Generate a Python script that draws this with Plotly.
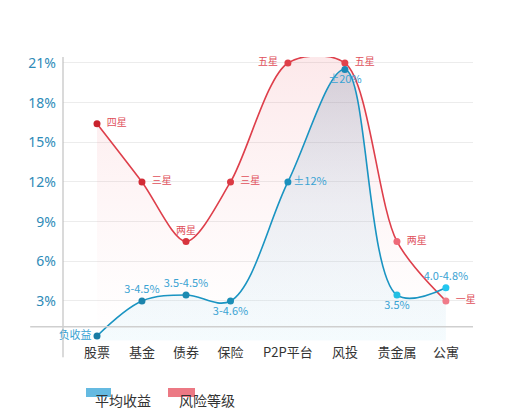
import plotly.graph_objects as go

# 分类与数据
categories = ['股票', '基金', '债券', '保险', 'P2P平台', '风投', '贵金属', '公寓']
xpos = [0, 1.01, 2.0, 3.0, 4.29, 5.57, 6.74, 7.84]

risk = [16.4, 12, 7.5, 12, 21, 21, 7.5, 3]
risk_labels = ['四星', '三星', '两星', '三星', '五星', '五星', '两星', '一星']

ret = [0.35, 3, 3.45, 3, 12, 20.5, 3.45, 4]
ret_labels = ['负收益', '3-4.5%', '3.5-4.5%', '3-4.6%', '±12%', '±20%', '3.5%', '4.0-4.8%']

yticks = [3, 6, 9, 12, 15, 18, 21]
ytick_text = ['3%', '6%', '9%', '12%', '15%', '18%', '21%']

CJK = 'Noto Sans CJK SC'
SP = '\u00a0\u00a0'

red_pts = ['#c9232d', '#d22c36', '#d8343e', '#db3a44', '#df404a', '#e0434d', '#ee6a79', '#f07b89']
blue_pts = ['#1a7ca4', '#1b84ac', '#1b8ab2', '#1b8eb6', '#1a90bd', '#1a88b6', '#22bfe3', '#22c6ef']

fig = go.Figure()

# 填充层
fig.add_trace(go.Scatter(
    x=xpos, y=risk, mode='lines', line=dict(width=0, shape='spline', smoothing=0.85),
    fill='tozeroy',
    fillgradient=dict(type='vertical', colorscale=[[0, 'rgba(245,150,160,0)'],
                                                   [1, 'rgba(236,95,108,0.14)']]),
    showlegend=False, hoverinfo='skip'))
fig.add_trace(go.Scatter(
    x=xpos, y=ret, mode='lines', line=dict(width=0, shape='spline', smoothing=1),
    fill='tozeroy',
    fillgradient=dict(type='vertical', colorscale=[[0, 'rgba(170,225,245,0.12)'],
                                                   [0.5, 'rgba(140,185,215,0.15)'],
                                                   [1, 'rgba(90,115,150,0.24)']]),
    showlegend=False, hoverinfo='skip'))

# 风险等级
fig.add_trace(go.Scatter(
    x=xpos, y=risk, name='风险等级', mode='lines+markers+text',
    line=dict(color='#de3f4b', width=1.6, shape='spline', smoothing=0.85),
    marker=dict(size=7, color=red_pts),
    text=[SP + t + SP for t in risk_labels],
    textposition=['middle right', 'middle right', 'top center', 'middle right',
                  'middle left', 'middle right', 'middle right', 'middle right'],
    textfont=dict(family=CJK, size=10, color='#e0505b'),
    cliponaxis=False, showlegend=False))

# 平均收益
fig.add_trace(go.Scatter(
    x=xpos, y=ret, name='平均收益', mode='lines+markers+text',
    line=dict(color='#1a94c2', width=1.6, shape='spline', smoothing=1),
    marker=dict(size=7, color=blue_pts),
    text=ret_labels,
    textposition=['middle left', 'top center', 'top center', 'bottom center',
                  'middle right', 'bottom center', 'bottom center', 'top center'],
    textfont=dict(family=CJK, size=11, color='#3aa3d3'),
    cliponaxis=False, showlegend=False))

# 坐标轴线与底线
fig.add_shape(type='line', xref='paper', yref='paper', x0=0, x1=0, y0=-0.05, y1=1,
              line=dict(color='#b5b5b5', width=1))
fig.add_shape(type='line', xref='paper', yref='y', x0=-0.08, x1=1, y0=1.04, y1=1.04,
              line=dict(color='#cfcfcf', width=1.5))

# 图例（手绘）
def px_x(p):
    return (p - 63) / 410.0

def px_y(p):
    return (343 - p) / 286.0

for x0, x1, col in [(86, 111, '#4aaedc'), (168, 195, '#e9626f')]:
    fig.add_shape(type='rect', xref='paper', yref='paper',
                  x0=px_x(x0), x1=px_x(x1), y0=px_y(397), y1=px_y(388),
                  fillcolor=col, line=dict(width=0), opacity=0.85)

for cx, txt in [(123, '平均收益'), (207, '风险等级')]:
    fig.add_annotation(x=px_x(cx), y=px_y(400), xref='paper', yref='paper',
                       xanchor='center', yanchor='middle',
                       text=txt, showarrow=False,
                       font=dict(family=CJK, size=14, color='#333333'))

# 页面自带 8px 边距，所以尺寸和边距都少算 8
fig.update_layout(
    width=497, height=411,
    margin=dict(l=55, r=32, t=49, b=76),
    plot_bgcolor='white', paper_bgcolor='white',
    font=dict(family=CJK),
)

fig.update_xaxes(
    range=[-0.764, 8.449], tickvals=xpos, ticktext=categories,
    showgrid=False, zeroline=False, showline=False, ticks='',
    tickfont=dict(family=CJK, size=13, color='#333333'),
)
fig.update_yaxes(
    range=[-0.18, 21.45], tickvals=yticks, ticktext=ytick_text,
    showgrid=True, gridcolor='#ececec', gridwidth=1,
    zeroline=False, showline=False, ticks='', ticklabelstandoff=6,
    tickfont=dict(family='Noto Sans', size=14, color='#2e8bb8'),
)

fig.write_html("out.html")
